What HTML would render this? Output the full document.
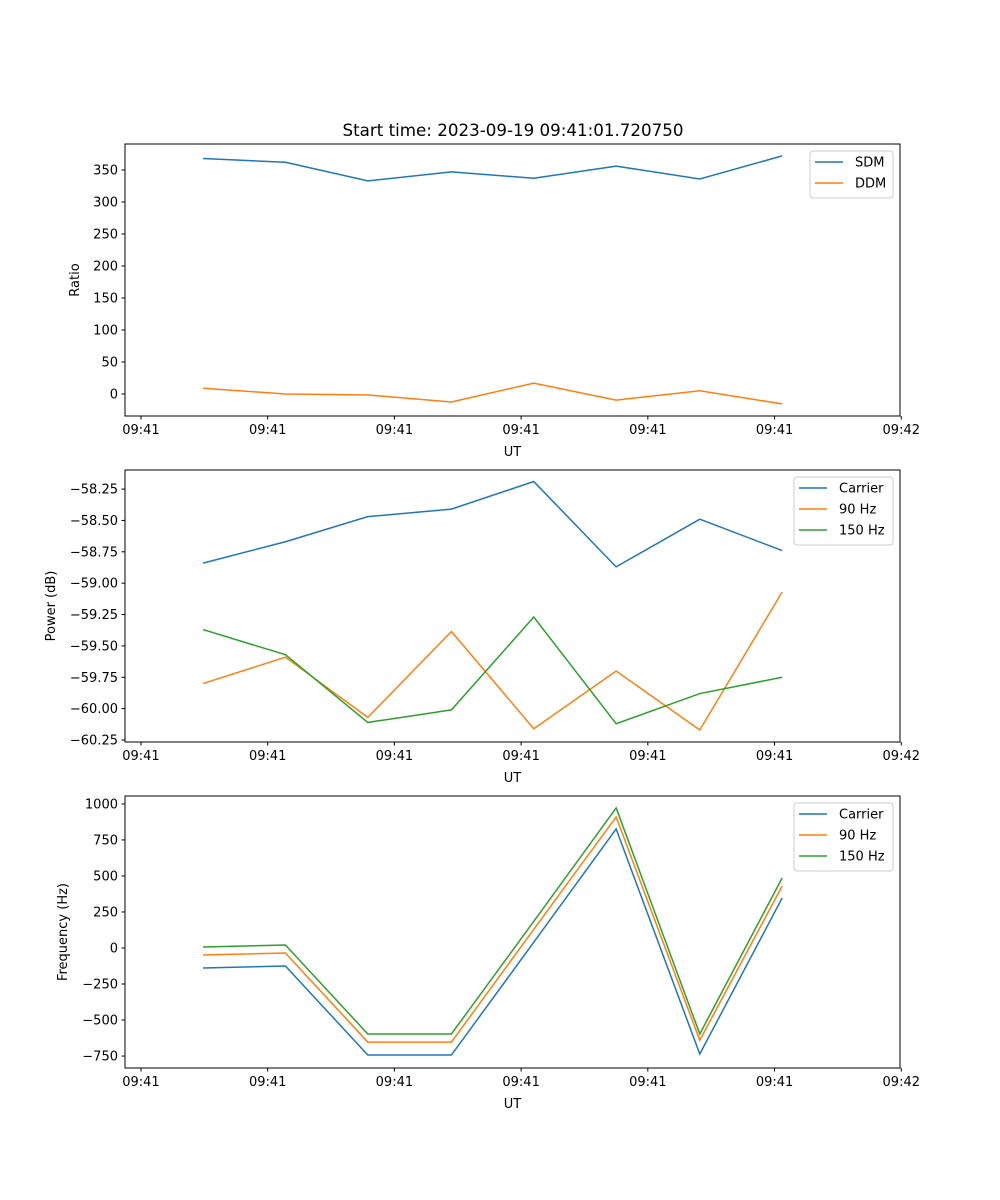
<!DOCTYPE html>
<html><head><meta charset="utf-8"><style>
body{margin:0;background:#fff}
svg{display:block;font-family:"DejaVu Sans","Liberation Sans",sans-serif}
</style></head><body>
<svg id="c" width="1000" height="1200" xmlns="http://www.w3.org/2000/svg">
<text x="513" y="136" font-size="16.7" text-anchor="middle">Start time: 2023-09-19 09:41:01.720750</text>
</svg>
<script>
// times in seconds after 09:41:00
const times = [4.9, 11.4, 17.9, 24.5, 31.0, 37.5, 44.1, 50.6];
const xTicks = [0, 10, 20, 30, 40, 50, 60];
const xTickLabels = ["09:41","09:41","09:41","09:41","09:41","09:41","09:42"];
const sdm = [368, 362, 333, 347, 337, 356, 336, 372];
const ddm = [9, 0, -1.5, -12.5, 17, -9.5, 5, -15.5];
const pCarrier = [-58.84, -58.67, -58.47, -58.41, -58.19, -58.87, -58.49, -58.74];
const p90 = [-59.80, -59.59, -60.07, -59.385, -60.16, -59.70, -60.17, -59.07];
const p150 = [-59.37, -59.57, -60.11, -60.01, -59.27, -60.12, -59.88, -59.75];
const fCarrier = [-139, -125, -743, -743, 40, 826, -736, 347];
const f90 = [-49, -35, -653, -653, 130, 910, -640, 430];
const f150 = [7, 21, -597, -597, 185, 972, -597, 486];
const y1Ticks = [0, 50, 100, 150, 200, 250, 300, 350];
const y2Ticks = [-60.25, -60.00, -59.75, -59.50, -59.25, -59.00, -58.75, -58.50, -58.25];
const y3Ticks = [-750, -500, -250, 0, 250, 500, 750, 1000];

const svg = document.getElementById('c');
const NS = 'http://www.w3.org/2000/svg';
function mk(tag, attrs, parent){const e=document.createElementNS(NS,tag);for(const k in attrs)e.setAttribute(k,attrs[k]);(parent||svg).appendChild(e);return e;}
const L=125,R=900,xMin=-1.26,xMax=59.9;
const sx=t=>L+(t-xMin)/(xMax-xMin)*(R-L);
const C={b:'#1f77b4',o:'#ff7f0e',g:'#2ca02c'};

function panel(name,top,bot,yMin,yMax,yTicks,fmt,ylabel,ylabX,series,leg){
  const g=mk('g',{});
  
  
  const sy=v=>bot-(v-yMin)/(yMax-yMin)*(bot-top);
  series.forEach(s=>{
    const p=mk('polyline',{points:s.v.map((v,i)=>sx(times[i])+','+sy(v)).join(' '),fill:'none',stroke:s.c,'stroke-width':1.5},g);
    
    
  });
  const fr=mk('rect',{x:L,y:top,width:R-L,height:bot-top,fill:'none',stroke:'#000','stroke-width':1},g);
  
  
  yTicks.forEach(v=>{
    const y=sy(v);
    mk('line',{x1:L-3.5,x2:L,y1:y,y2:y,stroke:'#000'},g);
    const t=mk('text',{x:L-7,y:y+4.5,'font-size':13,'text-anchor':'end'},g);
    t.textContent=fmt(v).replace('-','\u2212');
    
    
  });
  xTicks.forEach((v,i)=>{
    const x=sx(v);
    mk('line',{x1:x,x2:x,y1:bot,y2:bot+3.5,stroke:'#000'},g);
    const t=mk('text',{x:x,y:bot+18,'font-size':13,'text-anchor':'middle'},g);
    t.textContent=xTickLabels[i];
    
    
  });
  const xl=mk('text',{x:(L+R)/2,y:bot+40,'font-size':13,'text-anchor':'middle'},g);
  xl.textContent='UT';
  
  
  const yl=mk('text',{x:ylabX,y:(top+bot)/2,'font-size':13,'text-anchor':'middle',transform:`rotate(-90 ${ylabX} ${(top+bot)/2})`},g);
  yl.textContent=ylabel;
  
  
  const lg=mk('g',{},g);
  
  
  mk('rect',{x:leg.x,y:top+7,width:893-leg.x,height:series.length*21+5,rx:3,fill:'#fff','fill-opacity':0.8,stroke:'#ccc'},lg);
  series.forEach((s,i)=>{
    const y=top+18+i*21;
    mk('line',{x1:leg.x+5,x2:leg.x+33,y1:y,y2:y,stroke:s.c,'stroke-width':1.5},lg);
    const t=mk('text',{x:leg.x+45,y:y+4.5,'font-size':13},lg);
    t.textContent=s.n;
    
    
  });
}
panel('ratio-panel',144,416,-34.4,390.6,y1Ticks,v=>String(v),'Ratio',79,
  [{id:'sdm',n:'SDM',v:sdm,c:C.b},{id:'ddm',n:'DDM',v:ddm,c:C.o}],{x:810});
panel('power-panel',470,742,-60.266,-58.098,y2Ticks,v=>v.toFixed(2),'Power (dB)',55,
  [{id:'carrier',n:'Carrier',v:pCarrier,c:C.b},{id:'90hz',n:'90 Hz',v:p90,c:C.o},{id:'150hz',n:'150 Hz',v:p150,c:C.g}],{x:794});
panel('frequency-panel',796,1068,-833,1055,y3Ticks,v=>String(v),'Frequency (Hz)',67,
  [{id:'carrier',n:'Carrier',v:fCarrier,c:C.b},{id:'90hz',n:'90 Hz',v:f90,c:C.o},{id:'150hz',n:'150 Hz',v:f150,c:C.g}],{x:794});
</script>
</body></html>
